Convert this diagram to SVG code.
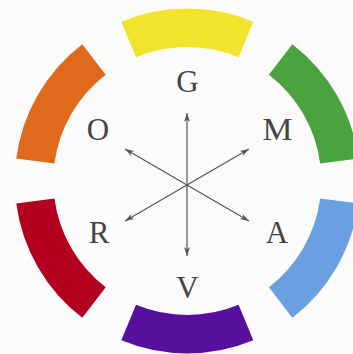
<svg xmlns="http://www.w3.org/2000/svg" width="353" height="354" viewBox="0 0 353 354">
  <defs>
    <style>
      .lbl { font-family: "Liberation Serif", "DejaVu Serif", serif; font-size: 31px; fill: #444444; text-anchor: middle; }
      .arr { stroke: #555555; stroke-width: 1.2; fill: none; marker-end: url(#head); }
    </style>
    <marker id="head" viewBox="-10 -4 12 8" markerWidth="12" markerHeight="8" refX="0" refY="0" orient="auto" markerUnits="userSpaceOnUse">
      <path d="M0,0 L-9,-3 L-6.5,0 L-9,3 Z" fill="#555555"/>
    </marker>
    <path id="seg" d="M121.29,21.63 A172.5,172.5 0 0 1 253.31,21.63 L238.58,57.20 A134,134 0 0 0 136.02,57.20 Z"/>
  </defs>
  <rect width="353" height="354" fill="#fbfbfb"/>

  <g id="ring">
    <g id="seg-yellow"><use href="#seg" fill="#f2e42c"/></g>
    <g id="seg-green"><use href="#seg" fill="#4ba33f" transform="rotate(60 187.3 181)"/></g>
    <g id="seg-blue"><use href="#seg" fill="#6a9fe2" transform="rotate(120 187.3 181)"/></g>
    <g id="seg-purple"><use href="#seg" fill="#570f9e" transform="rotate(180 187.3 181)"/></g>
    <g id="seg-red"><use href="#seg" fill="#b3001f" transform="rotate(240 187.3 181)"/></g>
    <g id="seg-orange"><use href="#seg" fill="#e06a1b" transform="rotate(300 187.3 181)"/></g>
  </g>

  <g id="labels">
    <g id="node-G"><text class="lbl" x="187.5" y="92">G</text></g>
    <g id="node-M"><text class="lbl" x="277.5" y="140" textLength="30" lengthAdjust="spacingAndGlyphs">M</text></g>
    <g id="node-A"><text class="lbl" x="277" y="243">A</text></g>
    <g id="node-V"><text class="lbl" x="187.5" y="298">V</text></g>
    <g id="node-R"><text class="lbl" x="99" y="243">R</text></g>
    <g id="node-O"><text class="lbl" x="98" y="140">O</text></g>
  </g>

  <g id="connectors">
    <line class="arr" x1="187" y1="185" x2="187" y2="113"/>
    <line class="arr" x1="187" y1="185" x2="187" y2="256"/>
    <line class="arr" x1="187" y1="185" x2="249" y2="149"/>
    <line class="arr" x1="187" y1="185" x2="125" y2="221"/>
    <line class="arr" x1="187" y1="185" x2="125" y2="149"/>
    <line class="arr" x1="187" y1="185" x2="249" y2="221"/>
  </g>
</svg>
